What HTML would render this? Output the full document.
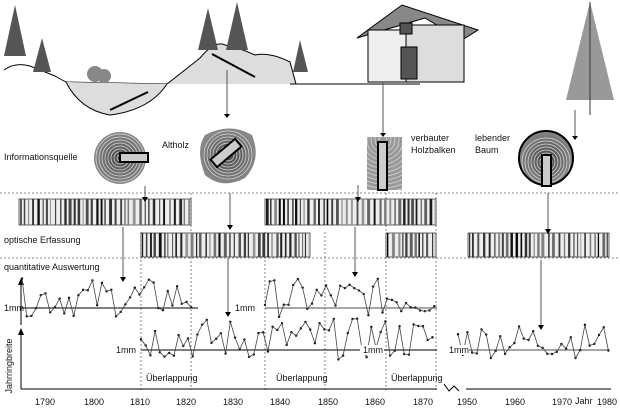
<!DOCTYPE html>
<html><head><meta charset="utf-8"><style>
html,body{margin:0;padding:0;background:#fff}
svg{display:block}
text{font-family:"Liberation Sans",sans-serif;font-size:9px;fill:#111}
</style></head><body>
<svg id="s" width="620" height="411" viewBox="0 0 620 411" xmlns="http://www.w3.org/2000/svg">
<defs>
<radialGradient id="rg"><stop offset="0" stop-color="#444"/><stop offset="1" stop-color="#888"/></radialGradient>
<clipPath id="bc"><rect x="367" y="137" width="35" height="53"/></clipPath>
</defs>
<g stroke="#000" stroke-width="1" fill="none">
<path d="M4,70 Q15,62 30,66 Q45,72 55,76 Q62,80 66,82 L167,84" />
<path d="M66,82 Q80,110 110,115 Q150,110 167,84" fill="#ddd"/>
<path d="M167,84 Q185,70 200,58 Q215,40 225,45 Q240,48 255,55 Q270,52 290,62 L296,84 L420,84" fill="#ddd"/>
<line x1="290" y1="84" x2="318" y2="84"/>
<line x1="110" y1="110" x2="148" y2="92" stroke-width="2"/>
<line x1="212" y1="54" x2="255" y2="77" stroke-width="2"/>
</g>
<g fill="#555">
<path d="M15,5 L4,56 L26,56Z"/><path d="M42,38 L33,72 L51,72Z"/>
<path d="M208,8 L198,50 L218,50Z"/><path d="M237,2 L226,50 L248,50Z"/><path d="M300,40 L293,72 L308,72Z"/>
<circle cx="95" cy="74" r="8" fill="#888"/><circle cx="104" cy="76" r="7" fill="#888"/>
</g>
<line x1="227" y1="70" x2="227" y2="114" stroke="#555"/><path d="M224,114 L230,114 L227,118Z"/>
<g stroke="#000">
<path d="M357,38 L402,5 L478,30 L462,40 L425,18Z" fill="#888"/>
<rect x="368" y="30" width="38" height="52" fill="#eee"/>
<rect x="406" y="25" width="58" height="57" fill="#ddd"/>
<rect x="401" y="47" width="16" height="32" fill="#555"/>
<rect x="400" y="23" width="12" height="11" fill="#555"/>
</g>
<line x1="383" y1="82" x2="383" y2="133" stroke="#555"/><path d="M380,133 L386,133 L383,137Z"/>
<path d="M590,2 L566,100 L614,100Z" fill="#999"/><line x1="590" y1="2" x2="590" y2="115" stroke="#333"/>
<line x1="575" y1="110" x2="575" y2="136" stroke="#555"/><path d="M572,136 L578,136 L575,140Z"/>
<g id="discs" fill="none" stroke="#ddd" stroke-width="0.7"></g>
<g id="beam" fill="none" stroke="#ddd" stroke-width="0.7" clip-path="url(#bc)"></g>
<rect x="378" y="142" width="9" height="48" fill="#ccc" stroke="#000" stroke-width="2"/>
<text x="4" y="160">Informationsquelle</text>
<text x="162" y="148">Altholz</text>
<text x="411" y="141">verbauter</text><text x="411" y="153">Holzbalken</text>
<text x="475" y="141">lebender</text><text x="475" y="153">Baum</text>
<g stroke="#666" stroke-dasharray="2,2" stroke-width="0.8">
<line x1="0" y1="193" x2="620" y2="193"/><line x1="0" y1="258" x2="620" y2="258"/>
<g id="vd"></g>
</g>
<g id="bars"></g>
<text x="4" y="243">optische Erfassung</text>
<text x="4" y="270">quantitative Auswertung</text>
<g id="arrows" stroke="#555" fill="#000"></g>
<g stroke="#000" stroke-width="1">
<line x1="21" y1="283" x2="21" y2="325"/><line x1="21" y1="333" x2="21" y2="389"/>
<line x1="21" y1="389" x2="437" y2="389"/><line x1="466" y1="389" x2="611" y2="389"/>
<polyline points="444,384 449,391 454,386 459,391" fill="none"/>
<line x1="20" y1="308" x2="198" y2="308"/>
<line x1="141" y1="350" x2="437" y2="350"/>
</g>
<line x1="265" y1="308" x2="437" y2="308" stroke="#888" stroke-width="1.5"/>
<line x1="468" y1="350" x2="609" y2="350" stroke="#888" stroke-width="1.5"/>
<path d="M18,285 L24,285 L21,278Z"/><path d="M18,335 L24,335 L21,328Z"/>
<g id="series" fill="none" stroke="#444" stroke-width="0.8"></g>
<rect x="114" y="345" width="22" height="10" fill="#fff"/><rect x="360" y="345" width="24" height="10" fill="#fff"/><rect x="447" y="345" width="22" height="10" fill="#fff"/>
<text x="4" y="311">1mm</text><text x="235" y="311">1mm</text>
<text x="116" y="353">1mm</text><text x="363" y="353">1mm</text><text x="449" y="353">1mm</text>
<text x="146" y="381">Überlappung</text><text x="276" y="381">Überlappung</text><text x="391" y="381">Überlappung</text>
<text transform="translate(12,366) rotate(-90)" text-anchor="middle">Jahrringbreite</text>
<g font-size="8">
<text x="35" y="405">1790</text><text x="84" y="405">1800</text><text x="130" y="405">1810</text><text x="176" y="405">1820</text>
<text x="223" y="405">1830</text><text x="270" y="405">1840</text><text x="318" y="405">1850</text><text x="365" y="405">1860</text>
<text x="413" y="405">1870</text><text x="457" y="405">1950</text><text x="505" y="405">1960</text><text x="552" y="405">1970</text>
<text x="575" y="404">Jahr</text><text x="597" y="405">1980</text>
</g>
</svg>
<script>
var NS="http://www.w3.org/2000/svg";
function el(p,n,a){var e=document.createElementNS(NS,n);for(var k in a)e.setAttribute(k,a[k]);document.getElementById(p).appendChild(e);return e;}
var seed=7;function r(){seed=(seed*9301+49297)%233280;return seed/233280;}
el("discs","circle",{cx:120,cy:158,r:26,fill:"url(#rg)",stroke:"none"});
for(var k=3;k<26;k+=3)el("discs","circle",{cx:120,cy:158,r:k});
el("discs","rect",{x:120,y:153,width:28,height:9,fill:"#ccc",stroke:"#000","stroke-width":2});
el("discs","path",{d:"M205,135 Q230,122 252,135 Q262,160 245,178 Q222,190 205,175 Q195,150 205,135Z",fill:"url(#rg)",stroke:"none"});
for(var k=3;k<26;k+=3)el("discs","circle",{cx:228,cy:155,r:k});
el("discs","rect",{x:210,y:148,width:32,height:10,fill:"#ccc",stroke:"#000","stroke-width":2,transform:"rotate(-40 226 153)"});
el("beam","rect",{x:367,y:137,width:35,height:53,fill:"#999",stroke:"none"});
for(var k=4;k<60;k+=4)el("beam","circle",{cx:383,cy:140,r:k});
el("discs","circle",{cx:546,cy:158,r:27,fill:"url(#rg)",stroke:"none"});
for(var k=3;k<26;k+=3)el("discs","circle",{cx:546,cy:162,r:k});
el("discs","circle",{cx:546,cy:158,r:27,stroke:"#000","stroke-width":2});
el("discs","rect",{x:542,y:155,width:9,height:31,fill:"#ccc",stroke:"#000","stroke-width":2});
[[141,232,390],[191,193,390],[265,232,390],[325,232,390],[386,193,390],[436,193,390]].forEach(function(v){el("vd","line",{x1:v[0],y1:v[1],x2:v[0],y2:v[2]});});
function bar(x1,x2,y,h){el("bars","rect",{x:x1,y:y,width:x2-x1,height:h,fill:"#eee",stroke:"#000","stroke-width":0.6});
 var x=x1+1;while(x<x2-1){var w=1+r()*2;if(x+w>x2-1)w=x2-1-x;var g=Math.floor(r()*160);el("bars","rect",{x:x,y:y,width:w,height:h,fill:"rgb("+g+","+g+","+g+")"});x+=w+1.5+r()*2.5;}}
bar(19,191,199,26);bar(265,436,199,26);bar(141,310,233,24);bar(386,436,233,24);bar(468,609,233,24);
[[145,186,197],[230,193,225],[123,227,277],[358,185,197],[548,193,229],[541,260,325],[228,258,312],[355,227,272]].forEach(function(a){
 el("arrows","line",{x1:a[0],y1:a[1],x2:a[0],y2:a[2]});el("arrows","path",{d:"M"+(a[0]-3)+","+a[2]+" L"+(a[0]+3)+","+a[2]+" L"+a[0]+","+(a[2]+5)+"Z",stroke:"none"});});
function ser(x1,x2,base,amp){var p=[];for(var x=x1;x<=x2;x+=4.7){var y=base-amp*0.35-(r()-0.45)*amp*1.6;p.push(x.toFixed(1)+","+y.toFixed(1));el("series","circle",{cx:x,cy:y,r:1.2,fill:"#000",stroke:"none"});}
 el("series","polyline",{points:p.join(" ")});}
ser(22,192,308,24);ser(265,436,308,24);ser(141,436,350,26);ser(458,609,350,22);
</script>
</body></html>
